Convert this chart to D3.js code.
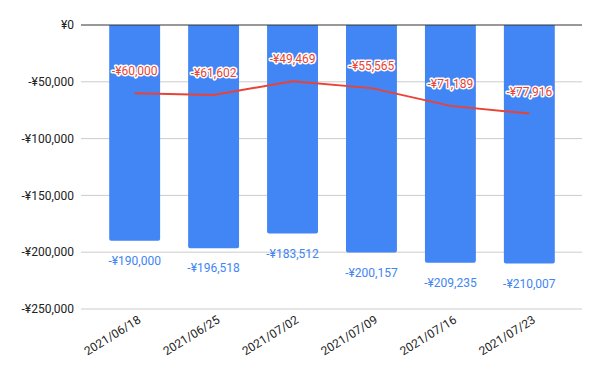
<!DOCTYPE html>
<html>
<head>
<meta charset="utf-8">
<script src="https://cdn.jsdelivr.net/npm/d3@7"></script>
<style>
  body { margin: 0; background: #fff; }
  text { font-family: Roboto, Arial, sans-serif; }
</style>
</head>
<body>
<div id="chart"></div>
<script>
// data
const dates = [`2021/06/18`, `2021/06/25`, `2021/07/02`, `2021/07/09`, `2021/07/16`, `2021/07/23`]
const barValues = [-190000, -196518, -183512, -200157, -209235, -210007]
const lineValues = [-60000, -61602, -49469, -55565, -71189, -77916]
const yTicks = [0, -50000, -100000, -150000, -200000, -250000]

const width = 600, height = 371

const svg = d3.select(`#chart`).append(`svg`)
  .attr(`width`, width)
  .attr(`height`, height)

// scales
const x = d3.scaleBand().domain(dates).range([95, 569]).paddingInner(0.355).paddingOuter(0.18)
const y = d3.scaleLinear().domain([0, -250000]).range([25, 309])

const yen = v => (v < 0 ? `-` : ``) + `¥` + d3.format(`,`)(Math.abs(v))

// gridlines
svg.append(`g`).selectAll(`line`).data(yTicks.filter(d => d !== 0)).join(`line`)
  .attr(`x1`, 81).attr(`x2`, 582)
  .attr(`y1`, d => y(d)).attr(`y2`, d => y(d))
  .attr(`stroke`, `#cccccc`).attr(`stroke-width`, 1)

// y axis labels
svg.append(`g`).selectAll(`text`).data(yTicks).join(`text`)
  .attr(`x`, 74).attr(`y`, d => y(d))
  .attr(`dy`, `0.35em`)
  .attr(`text-anchor`, `end`)
  .attr(`font-size`, 12)
  .attr(`fill`, `#222`)
  .text(yen)

// bars (rounded bottom corners)
const r = 2
svg.append(`g`).selectAll(`path`).data(barValues).join(`path`)
  .attr(`fill`, `#4285f4`)
  .attr(`d`, (d, i) => {
    const x0 = x(dates[i]), x1 = x0 + x.bandwidth(), y0 = y(0), y1 = y(d)
    return `M${x0},${y0}H${x1}V${y1 - r}Q${x1},${y1} ${x1 - r},${y1}H${x0 + r}Q${x0},${y1} ${x0},${y1 - r}Z`
  })

// zero line
svg.append(`line`)
  .attr(`x1`, 81).attr(`x2`, 582)
  .attr(`y1`, y(0)).attr(`y2`, y(0))
  .attr(`stroke`, `#333`).attr(`stroke-width`, 1)

// bar labels
svg.append(`g`).selectAll(`text`).data(barValues).join(`text`)
  .attr(`x`, (d, i) => x(dates[i]) + x.bandwidth() / 2)
  .attr(`y`, d => y(d) + 20)
  .attr(`dy`, `0.35em`)
  .attr(`text-anchor`, `middle`)
  .attr(`font-size`, 12)
  .attr(`fill`, `#4285f4`)
  .text(yen)

// line
const line = d3.line()
  .x((d, i) => x(dates[i]) + x.bandwidth() / 2)
  .y(d => y(d))

svg.append(`path`)
  .attr(`d`, line(lineValues))
  .attr(`fill`, `none`)
  .attr(`stroke`, `#ea4335`)
  .attr(`stroke-width`, 2)

// line labels with white halo
svg.append(`g`).selectAll(`text`).data(lineValues).join(`text`)
  .attr(`x`, (d, i) => x(dates[i]) + x.bandwidth() / 2)
  .attr(`y`, d => y(d) - 22)
  .attr(`dy`, `0.35em`)
  .attr(`text-anchor`, `middle`)
  .attr(`font-size`, 12)
  .attr(`fill`, `#ea4335`)
  .attr(`stroke`, `#fff`)
  .attr(`stroke-width`, 3)
  .attr(`paint-order`, `stroke`)
  .attr(`stroke-linejoin`, `round`)
  .text(yen)

// x axis labels, rotated
svg.append(`g`).selectAll(`text`).data(dates).join(`text`)
  .attr(`transform`, d => `translate(${x(d) + x.bandwidth() / 2 + 7},${322}) rotate(-32)`)
  .attr(`text-anchor`, `end`)
  .attr(`font-size`, 12)
  .attr(`fill`, `#222`)
  .text(d => d)
</script>
</body>
</html>
